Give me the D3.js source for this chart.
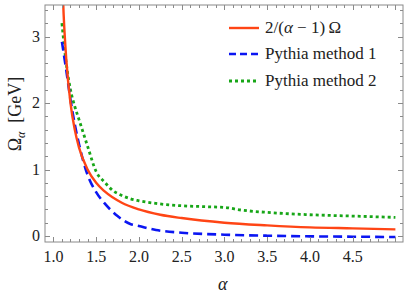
<!DOCTYPE html>
<html>
<head>
<meta charset="utf-8">
<script src="https://cdn.jsdelivr.net/npm/d3@7"></script>
<style>
  body { margin: 0; background: #fff; }
</style>
</head>
<body>
<div id="plot"></div>
<script>

// values
var alphaRed = [1.1, 1.12, 1.15, 1.2, 1.25, 1.3, 1.4, 1.5, 1.6, 1.8, 2.0, 2.25, 2.5, 3.0, 3.5, 4.0, 4.5, 5.0];
var omegaRed = [4.0, 3.33, 2.67, 2.0, 1.6, 1.33, 1.0, 0.8, 0.67, 0.5, 0.4, 0.32, 0.27, 0.2, 0.16, 0.13, 0.115, 0.1];

var alphaBlue = [1.1, 1.15, 1.2, 1.25, 1.3, 1.4, 1.5, 1.6, 1.75, 1.9, 2.0, 2.2, 2.5, 3.0, 3.5, 4.0, 4.5, 5.0];
var omegaBlue = [2.92, 2.5, 2.05, 1.68, 1.38, 0.92, 0.66, 0.49, 0.3, 0.18, 0.15, 0.09, 0.05, 0.02, 0.005, -0.005, -0.01, -0.015];

var alphaGreen = [1.1, 1.15, 1.2, 1.25, 1.3, 1.4, 1.5, 1.6, 1.7, 1.8, 1.9, 2.0, 2.2, 2.5, 2.8, 3.0, 3.2, 3.5, 4.0, 4.5, 5.0];
var omegaGreen = [3.2, 2.6, 2.2, 1.95, 1.75, 1.35, 0.97, 0.81, 0.68, 0.61, 0.56, 0.53, 0.49, 0.455, 0.44, 0.43, 0.39, 0.355, 0.32, 0.3, 0.28];

var xMajor = [1.0, 1.5, 2.0, 2.5, 3.0, 3.5, 4.0, 4.5];
var yMajor = [0, 1, 2, 3];
var legendLabels = ["2/(\u03b1 \u2212 1)\u2009\u03a9", "Pythia method 1", "Pythia method 2"];

var width = 407,
    height = 294,
    frame = {left: 45, right: 403, top: 5, bottom: 242},
    serif = "'Liberation Serif', 'DejaVu Serif', serif";

var svg = d3.select("#plot").append("svg")
    .attr("width", width)
    .attr("height", height);

var x = d3.scaleLinear().domain([0.902, 5.089]).range([frame.left, frame.right]);
var y = d3.scaleLinear().domain([-0.09, 3.474]).range([frame.bottom, frame.top]);

var series = [
    {name: legendLabels[0], xs: alphaRed, ys: omegaRed, color: "#ff4515", width: 2.4, dash: null, legDash: null},
    {name: legendLabels[1], xs: alphaBlue, ys: omegaBlue, color: "#0b16f2", width: 2.6, dash: "9,5", legDash: "7,4"},
    {name: legendLabels[2], xs: alphaGreen, ys: omegaGreen, color: "#17a617", width: 2.8, dash: "3,3", legDash: "3,3"}
];

svg.append("defs").append("clipPath")
    .attr("id", "clip")
  .append("rect")
    .attr("x", frame.left)
    .attr("y", frame.top)
    .attr("width", frame.right - frame.left)
    .attr("height", frame.bottom - frame.top);

// Curves
var line = d3.line()
    .x(function(d) { return x(d[0]); })
    .y(function(d) { return y(d[1]); })
    .curve(d3.curveMonotoneX);

var body = svg.append("g").attr("clip-path", "url(#clip)");
body.selectAll(".curve")
    .data(series.slice().reverse())
    .enter().append("path")
    .attr("class", "curve")
    .attr("d", function(s) { return line(d3.zip(s.xs, s.ys)); })
    .style("fill", "none")
    .style("stroke", function(s) { return s.color; })
    .style("stroke-width", function(s) { return s.width; })
    .style("stroke-dasharray", function(s) { return s.dash; });

// Frame with ticks on all sides
var frameColor = "#8a8a8a";
var xMinor = d3.range(9, 51).map(function(i) { return i / 10; });
var yMinor = d3.range(0, 18).map(function(i) { return i / 5; });

function isMajor(v, list) {
    return list.some(function(m) { return Math.abs(m - v) < 1e-6; });
}

var axes = svg.append("g").style("stroke", frameColor).style("fill", "none");
axes.append("rect")
    .attr("x", frame.left)
    .attr("y", frame.top)
    .attr("width", frame.right - frame.left)
    .attr("height", frame.bottom - frame.top)
    .style("stroke-width", 1);

xMinor.forEach(function(v) {
    if (v < x.domain()[0] || v > x.domain()[1]) return;
    var len = isMajor(v, xMajor.concat([5.0])) ? 5 : 3;
    var px = Math.round(x(v)) + 0.5;
    axes.append("line").attr("x1", px).attr("x2", px).attr("y1", frame.bottom).attr("y2", frame.bottom - len);
    axes.append("line").attr("x1", px).attr("x2", px).attr("y1", frame.top).attr("y2", frame.top + len);
});

yMinor.forEach(function(v) {
    var len = isMajor(v, yMajor) ? 5 : 3;
    var py = Math.round(y(v)) + 0.5;
    axes.append("line").attr("y1", py).attr("y2", py).attr("x1", frame.left).attr("x2", frame.left + len);
    axes.append("line").attr("y1", py).attr("y2", py).attr("x1", frame.right).attr("x2", frame.right - len);
});

// Tick labels
svg.selectAll(".xlab")
    .data(xMajor)
    .enter().append("text")
    .attr("class", "xlab")
    .attr("x", function(d) { return x(d); })
    .attr("y", 262)
    .attr("text-anchor", "middle")
    .style("font-family", serif)
    .style("font-size", "16px")
    .style("fill", "#222")
    .text(function(d) { return d.toFixed(1); });

svg.selectAll(".ylab")
    .data(yMajor)
    .enter().append("text")
    .attr("class", "ylab")
    .attr("x", 40)
    .attr("y", function(d) { return y(d) + 5; })
    .attr("text-anchor", "end")
    .style("font-family", serif)
    .style("font-size", "16px")
    .style("fill", "#222")
    .text(function(d) { return d; });

// Axis titles
svg.append("text")
    .attr("x", x(2.98))
    .attr("y", 290)
    .attr("text-anchor", "middle")
    .style("font-family", serif)
    .style("font-size", "18px")
    .style("font-style", "italic")
    .style("fill", "#222")
    .text("\u03b1");

var ytitle = svg.append("text")
    .attr("transform", "translate(21,114) rotate(-90)")
    .attr("text-anchor", "middle")
    .style("font-family", serif)
    .style("font-size", "18px")
    .style("fill", "#222");
ytitle.append("tspan").text("\u03a9");
ytitle.append("tspan").attr("dy", 4).style("font-size", "12px").style("font-style", "italic").text("\u03b1");
ytitle.append("tspan").attr("dy", -4).text("\u2002[GeV]");

// Legend
var legend = svg.append("g").attr("class", "legend");
var legY = [28, 54, 81];
series.forEach(function(s, i) {
    legend.append("line")
        .attr("x1", 229).attr("x2", 259)
        .attr("y1", legY[i]).attr("y2", legY[i])
        .style("stroke", s.color)
        .style("stroke-width", s.width)
        .style("stroke-dasharray", s.legDash);
    var t = legend.append("text")
        .attr("x", 265)
        .attr("y", legY[i] + 5)
        .style("font-family", serif)
        .style("font-size", "17px")
        .style("fill", "#222");
    if (i === 0) {
        t.append("tspan").text("2/(");
        t.append("tspan").style("font-style", "italic").text("\u03b1");
        t.append("tspan").text(" \u2212 1)\u2009\u03a9");
    } else {
        t.text(s.name);
    }
});

</script>
</body>
</html>
